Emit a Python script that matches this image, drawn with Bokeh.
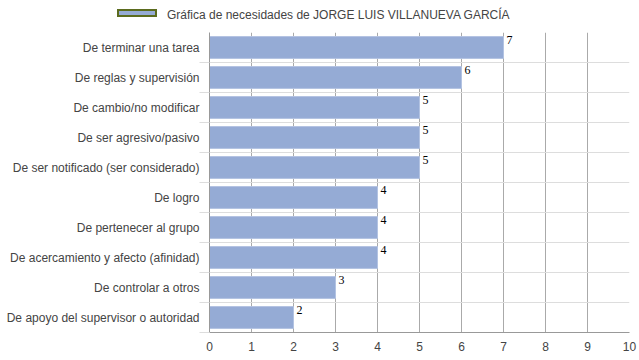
from bokeh.plotting import figure
from bokeh.layouts import column
from bokeh.models import (ColumnDataSource, FixedTicker, LinearAxis, Range1d, Div)
from bokeh.core.properties import value
from bokeh.embed import file_html
from bokeh.resources import INLINE

categories = ["De terminar una tarea", "De reglas y supervisión", "De cambio/no modificar",
              "De ser agresivo/pasivo", "De ser notificado (ser considerado)", "De logro",
              "De pertenecer al grupo", "De acercamiento y afecto (afinidad)",
              "De controlar a otros", "De apoyo del supervisor o autoridad"]
values = [7, 6, 5, 5, 5, 4, 4, 4, 3, 2]
x_ticks = [0, 1, 2, 3, 4, 5, 6, 7, 8, 9, 10]
title = "Gráfica de necesidades de JORGE LUIS VILLANUEVA GARCÍA"

n = len(categories)
centers = [n - i - 0.5 for i in range(n)]
bounds = list(range(n + 1))

src = ColumnDataSource(dict(y=centers, v=values, lbl=[str(v) for v in values],
                            top=[c + 0.37 for c in centers]))

# ---- legend strip on top ----
legend_html = (
    '<div style="position:relative;width:639px;height:32px;overflow:hidden;'
    'font-family:\'Liberation Sans\',Arial,sans-serif;font-size:12px;color:#444444;">'
    '<span style="position:absolute;left:117px;top:9px;width:40px;height:8px;'
    'background:#95abd5;border:2px solid #5b6b1e;"></span>'
    '<span style="position:absolute;left:167px;top:8px;line-height:14px;white-space:nowrap;">'
    + title + '</span></div>'
)
top = Div(text=legend_html, width=639, height=32, margin=0)

# ---- main chart ----
p = figure(width=639, height=328, output_backend="svg", toolbar_location=None,
           x_range=Range1d(0, 10), y_range=Range1d(0, n),
           min_border_left=209, min_border_right=10, min_border_top=0, min_border_bottom=28,
           outline_line_color=None, y_axis_location=None)

bars = p.hbar(y="y", right="v", left=0, height=0.73, source=src,
              fill_color="#95abd5", line_color="#b3c3e2", line_width=1)

p.text(x="v", y="top", text="lbl", source=src, x_offset=3,
       text_baseline="top", text_font=value("Liberation Serif"),
       text_font_size="12px", text_color="#000000")

p.xaxis.ticker = FixedTicker(ticks=x_ticks)
p.xaxis.axis_line_color = "#999999"
p.xaxis.major_tick_line_color = None
p.xaxis.major_tick_out = 0
p.xaxis.major_tick_in = 0
p.xaxis.minor_tick_line_color = None
p.xaxis.minor_tick_out = 0
p.xaxis.major_label_text_font = "Liberation Sans"
p.xaxis.major_label_text_font_size = "12px"
p.xaxis.major_label_text_color = "#444444"
p.xaxis.major_label_standoff = 9

p.xgrid.ticker = FixedTicker(ticks=x_ticks)
p.xgrid.grid_line_color = "#aaaaaa"
p.ygrid.ticker = FixedTicker(ticks=bounds[:-1])
p.ygrid.grid_line_color = "#dddddd"

tick_axis = LinearAxis(ticker=FixedTicker(ticks=bounds[:-1]), axis_line_color="#999999",
                       major_tick_out=10, major_tick_in=0, major_tick_line_color="#dddddd",
                       minor_tick_line_color=None, minor_tick_out=0,
                       major_label_overrides={b: "" for b in bounds},
                       major_label_standoff=0)
label_axis = LinearAxis(ticker=FixedTicker(ticks=centers), axis_line_color=None,
                        major_tick_line_color=None, minor_tick_line_color=None,
                        major_tick_out=0, minor_tick_out=0,
                        major_label_overrides={c: name for c, name in zip(centers, categories)},
                        major_label_text_font="Liberation Sans",
                        major_label_text_font_size="12px",
                        major_label_text_color="#444444", major_label_standoff=0)
p.add_layout(tick_axis, "left")
p.add_layout(label_axis, "left")

layout = column(top, p, spacing=0)
open("out.html", "w").write(file_html(layout, INLINE))
